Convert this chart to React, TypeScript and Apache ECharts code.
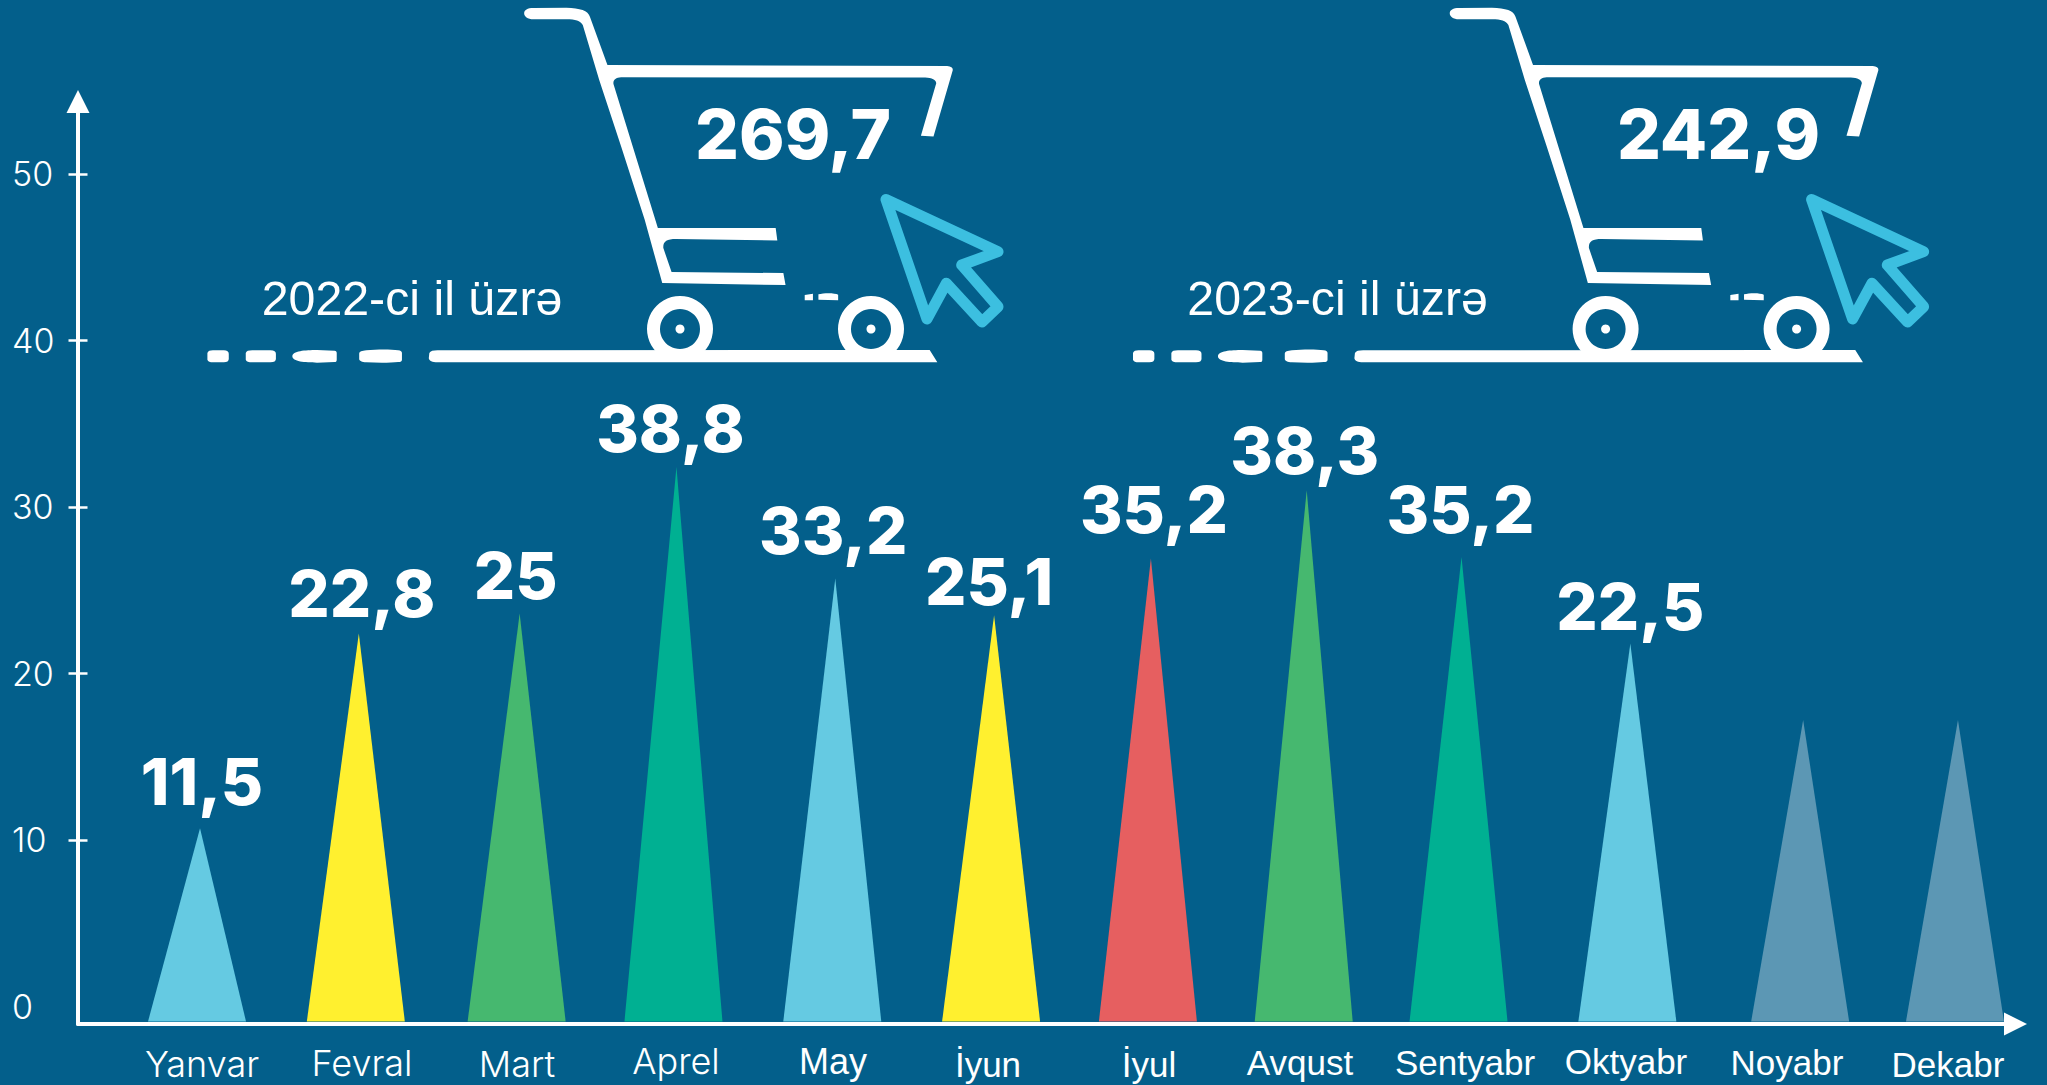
import React, { useEffect, useRef } from "react";
import * as echarts from "echarts";

const months = ["Yanvar", "Fevral", "Mart", "Aprel", "May", "İyun", "İyul", "Avqust", "Sentyabr", "Oktyabr", "Noyabr", "Dekabr"];
// Peak of each triangle, read against the left axis
const peaks = [10.7, 22.4, 23.6, 32.4, 25.7, 23.5, 26.9, 31.0, 27.0, 21.8, 17.2, 17.2];
// Printed values above the triangles
const printedValues = ["11,5", "22,8", "25", "38,8", "33,2", "25,1", "35,2", "38,3", "35,2", "22,5", "", ""];
const yTicks = [10, 20, 30, 40, 50];
const yLabels = [0, 10, 20, 30, 40, 50];
const yearNotes = [
  { caption: "2022-ci il üzrə", total: "269,7" },
  { caption: "2023-ci il üzrə", total: "242,9" },
];

const BG = "#035F8B";
const BLUE = "#65CAE2";
const YELLOW = "#FFF02F";
const GREEN = "#46B86F";
const TEAL = "#00B092";
const RED = "#E65F60";
const GREY = "#5C97B4";
const fills = [BLUE, YELLOW, GREEN, TEAL, BLUE, YELLOW, RED, GREEN, TEAL, BLUE, GREY, GREY];

// Hand placement of the original artwork, in pixels
const tipNudge = [0, -1, 0, -3, -4, -5, -8, -12, -17, -8, 5, 0];
const valueDx = [2, 3, -4, -6, -2, -5, 3, -2, -1, 0, 0, 0];
const valueDy = [47, 40, 38, 39, 48, 34, 49, 40, 47, 37, 0, 0];
const monthX = [202, 362, 517, 676, 833, 988, 1149, 1300, 1465, 1626, 1787, 1948];
const monthY = [1064, 1063, 1064, 1061, 1061, 1064, 1064, 1062, 1062, 1061, 1062, 1064];
const SANS = "Liberation Sans";
const GEO = "Inter";
const monthFont = ["300 36px " + GEO, "300 36px " + GEO, "300 36px " + GEO, "300 36px " + GEO, "36px " + SANS, "35px " + SANS, "35px " + SANS, "35px " + SANS, "35px " + SANS, "35px " + SANS, "35px " + SANS, "35px " + SANS];

const CART_D =
  "M628 40 C628 30 634 24 645 24 L705 23 C730 24 745 32 748 50 L780 195 L1400 198 C1408 199 1411 204 1410 212 L1375 410 L1352 408 L1380 250 C1380 240 1372 234 1360 233 L805 232 C795 233 790 240 791 252 L872 685 L1087 685 L1090 722 L905 718 C888 718 881 726 882 745 L897 817 L1101 820 L1105 856 L880 850 L848 660 L805 440 L765 240 L735 75 C730 62 722 58 705 58 L645 58 C634 58 628 50 628 40 Z" +
  " M455 1060 C457 1054 462 1052 470 1052 L1368 1051 L1382 1088 L470 1088 C460 1088 455 1084 454 1076 Z" +
  " M50 1060 C51 1054 55 1052 60 1052 L80 1052 C86 1052 89 1056 89 1062 L89 1078 C89 1084 86 1088 80 1088 L60 1088 C55 1088 51 1086 50 1080 Z" +
  " M120 1060 C121 1054 125 1052 132 1052 L165 1052 C172 1052 175 1056 175 1062 L175 1078 C175 1084 172 1088 165 1088 L132 1088 C125 1088 121 1086 120 1080 Z" +
  " M205 1070 C205 1054 228 1051 250 1051 L282 1053 C285 1053 286 1056 286 1060 L286 1080 C286 1084 285 1087 282 1087 L250 1089 C228 1089 205 1086 205 1070 Z" +
  " M327 1062 C327 1056 332 1053 340 1052 C360 1049 385 1049 398 1052 C403 1053 405 1056 405 1060 L405 1080 C405 1084 403 1087 398 1087 C385 1090 360 1090 340 1088 C332 1087 327 1084 327 1078 Z" +
  " M1140 886 L1155 882 L1155 902 L1140 902 Z M1165 884 C1175 879 1195 879 1201 885 L1201 902 L1165 900 Z";
const CURSOR = [[886, 199.5], [998, 251.7], [961.7, 265], [998, 306.7], [982, 322], [946.3, 283.3], [927, 319]];

echarts.graphic.registerShape("cartShape", echarts.graphic.extendPath(CART_D, {}));

const cartGroup = (note: { caption: string; total: string }, dx: number) => ({
  type: "group",
  x: dx,
  y: 0,
  silent: true,
  children: [
    { type: "cartShape", x: 180, y: 0, scaleX: 1 / 1.8233, scaleY: 1 / 3, style: { fill: "#fff" } },
    { type: "ring", shape: { cx: 680, cy: 329, r: 33, r0: 20 }, style: { fill: "#fff" } },
    { type: "circle", shape: { cx: 680, cy: 329, r: 4.5 }, style: { fill: "#fff" } },
    { type: "ring", shape: { cx: 871, cy: 329, r: 33, r0: 20 }, style: { fill: "#fff" } },
    { type: "circle", shape: { cx: 871, cy: 329, r: 4.5 }, style: { fill: "#fff" } },
    {
      type: "polygon",
      shape: { points: CURSOR },
      style: { fill: "none", stroke: "#3CBFE0", lineWidth: 11, lineJoin: "round" },
    },
    {
      type: "text",
      style: { x: 412, y: 298, text: note.caption, fill: "#fff", font: "48.3px " + SANS, textAlign: "center", textVerticalAlign: "middle" },
    },
    {
      type: "text",
      style: { x: 793, y: 134, text: note.total, fill: "#fff", font: "800 69px " + GEO, textAlign: "center", textVerticalAlign: "middle" },
    },
  ],
});

export default function App() {
  const ref = useRef<HTMLDivElement>(null);
  useEffect(() => {
    document.body.style.margin = "0";
    const chart = echarts.init(ref.current!, undefined, { renderer: "svg" });
    const axisColor = "#fff";
    const yBase = {
      type: "value",
      min: -1.05,
      max: 54.35,
      splitLine: { show: false },
    };
    chart.setOption({
      animation: false,
      backgroundColor: BG,
      grid: { left: 78, top: 101.5, width: 1937.5, height: 922.5, containLabel: false },
      xAxis: {
        type: "value",
        min: -0.7635,
        max: 11.36,
        splitLine: { show: false },
        axisTick: { show: false },
        axisLabel: { show: false },
        axisLine: {
          onZero: false,
          lineStyle: { color: axisColor, width: 4 },
          symbol: ["none", "triangle"],
          symbolSize: [23, 23],
        },
      },
      yAxis: [
        {
          ...yBase,
          axisLine: {
            show: true,
            onZero: false,
            lineStyle: { color: axisColor, width: 4 },
            symbol: ["none", "triangle"],
            symbolSize: [23, 23],
          },
          axisTick: { show: true, length: 9.5, customValues: yTicks, lineStyle: { color: axisColor, width: 2.5 } },
          axisLabel: {
            show: true,
            customValues: yLabels,
            align: "left",
            margin: 66,
            color: "#fff",
            fontFamily: GEO,
            fontWeight: 300,
            fontSize: 34,
          },
        },
        {
          ...yBase,
          position: "left",
          axisLine: { show: false, onZero: false },
          axisTick: { show: true, inside: true, length: 9.5, customValues: yTicks, lineStyle: { color: axisColor, width: 2.5 } },
          axisLabel: { show: false },
        },
      ],
      series: [
        {
          type: "custom",
          silent: true,
          clip: false,
          data: peaks.map((p, i) => [i, p]),
          encode: { x: 0, y: 1 },
          renderItem: (params: any, api: any) => {
            const i = api.value(0);
            const tip = api.coord([i, api.value(1)]);
            const base = api.coord([i, -0.9]);
            const tx = tip[0] + tipNudge[i];
            const children: any[] = [
              {
                type: "polygon",
                shape: { points: [[tx, tip[1]], [tx + 46, base[1]], [tx - 52, base[1]]] },
                style: { fill: fills[i] },
              },
              {
                type: "text",
                style: { x: monthX[i], y: monthY[i], text: months[i], fill: "#fff", font: monthFont[i], textAlign: "center", textVerticalAlign: "middle" },
              },
            ];
            if (printedValues[i]) {
              children.push({
                type: "text",
                style: {
                  x: tx + valueDx[i],
                  y: tip[1] - valueDy[i],
                  text: printedValues[i],
                  fill: "#fff",
                  font: "800 65px " + GEO,
                  textAlign: "center",
                  textVerticalAlign: "middle",
                },
              });
            }
            return { type: "group", children };
          },
        },
      ],
      graphic: [cartGroup(yearNotes[0], 0), cartGroup(yearNotes[1], 925.6)],
    });
    return () => chart.dispose();
  }, []);
  return <div ref={ref} style={{ width: 2047, height: 1085, background: BG }} />;
}
